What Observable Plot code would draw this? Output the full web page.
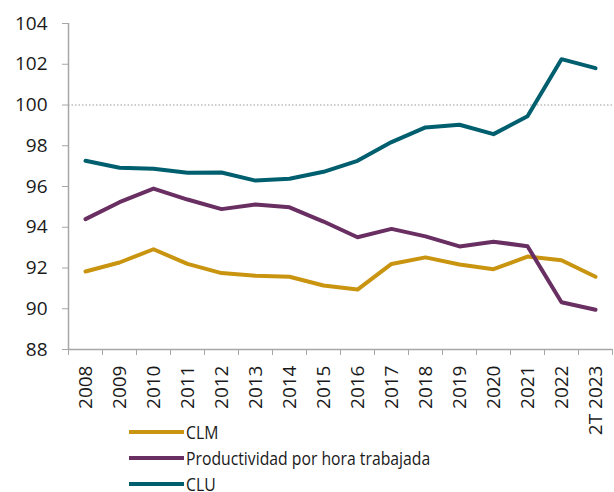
<!DOCTYPE html>
<html><head><meta charset="utf-8">
<script src="https://cdn.jsdelivr.net/npm/d3@7"></script>
<script src="https://cdn.jsdelivr.net/npm/@observablehq/plot@0.6"></script>
<style>
body{margin:0;background:#fff;}
#wrap{position:relative;width:614px;height:492px;font-family:"Open Sans",sans-serif;}
#legend{position:absolute;left:129px;top:419px;}
.item{display:flex;align-items:center;height:26px;font-size:17.5px;color:#1a1a1a;white-space:nowrap;font-family:"Open Sans",sans-serif}
.sw{width:55px;height:4px;margin-right:2px}
.lbl{display:inline-block;transform:scaleX(0.9);transform-origin:left center}
</style></head><body><div id="wrap"></div>
<script>
const categories = ["2008","2009","2010","2011","2012","2013","2014","2015","2016","2017","2018","2019","2020","2021","2022","2T 2023"];
const clm = [91.83,92.27,92.92,92.20,91.75,91.62,91.57,91.14,90.94,92.20,92.52,92.17,91.94,92.56,92.38,91.57];
const productividad = [94.40,95.23,95.90,95.36,94.89,95.12,94.98,94.28,93.51,93.92,93.55,93.06,93.29,93.07,90.32,89.95];
const clu = [97.26,96.92,96.87,96.67,96.69,96.29,96.38,96.72,97.26,98.18,98.90,99.03,98.57,99.45,102.25,101.81];
const seriesNames = ["CLM","Productividad por hora trabajada","CLU"];
const colors = ["#C9940F","#6A2F62","#005F6E"];
const yTicks = [88,90,92,94,96,98,100,102,104];
const refLine = 100;

const rows = [];
[clm, productividad, clu].forEach((vals, s) => vals.forEach((v, i) => rows.push({series: seriesNames[s], i, v})));
const idx = categories.map((_, i) => i);
const bounds = d3.range(categories.length + 1).map(i => i - 0.5);
const axisColor = "#a6a6a6";

const chart = Plot.plot({
  width: 614, height: 492,
  marginLeft: 68, marginRight: 2, marginTop: 23, marginBottom: 143,
  style: {fontFamily: "Open Sans", fontSize: "19px", color: "#1a1a1a", background: "white"},
  x: {type: "linear", domain: [-0.5, categories.length - 0.5], axis: null},
  y: {domain: [88, 104], axis: null},
  color: {domain: seriesNames, range: colors},
  marks: [
    Plot.ruleY([refLine], {stroke: "#999", strokeDasharray: "1.5,2", strokeWidth: 1}),
    Plot.ruleX([-0.5], {stroke: axisColor, strokeWidth: 1.5}),
    Plot.ruleY([88], {stroke: axisColor, strokeWidth: 1.5}),
    Plot.axisY({ticks: yTicks, tickSize: 6, tickPadding: 15, stroke: axisColor, fill: "#1a1a1a", fontSize: 19, label: null}),
    Plot.axisX({ticks: bounds, tickSize: 6, tickFormat: () => "", stroke: axisColor, label: null}),
    Plot.axisX({ticks: idx, tickSize: 0, tickPadding: 16, tickRotate: -90, tickFormat: i => categories[i], fill: "#1a1a1a", fontSize: 19, label: null}),
    Plot.line(rows, {x: "i", y: "v", stroke: "series", strokeWidth: 4, strokeLinejoin: "round", strokeLinecap: "round"})
  ]
});
const wrap = document.getElementById("wrap");
wrap.appendChild(chart);
const legend = document.createElement("div");
legend.id = "legend";
seriesNames.forEach((name, k) => {
  const item = document.createElement("div");
  item.className = "item";
  const sw = document.createElement("span");
  sw.className = "sw";
  sw.style.background = colors[k];
  const label = document.createElement("span");
  label.className = "lbl";
  label.textContent = name;
  item.appendChild(sw);
  item.appendChild(label);
  legend.appendChild(item);
});
wrap.appendChild(legend);
</script></body></html>
